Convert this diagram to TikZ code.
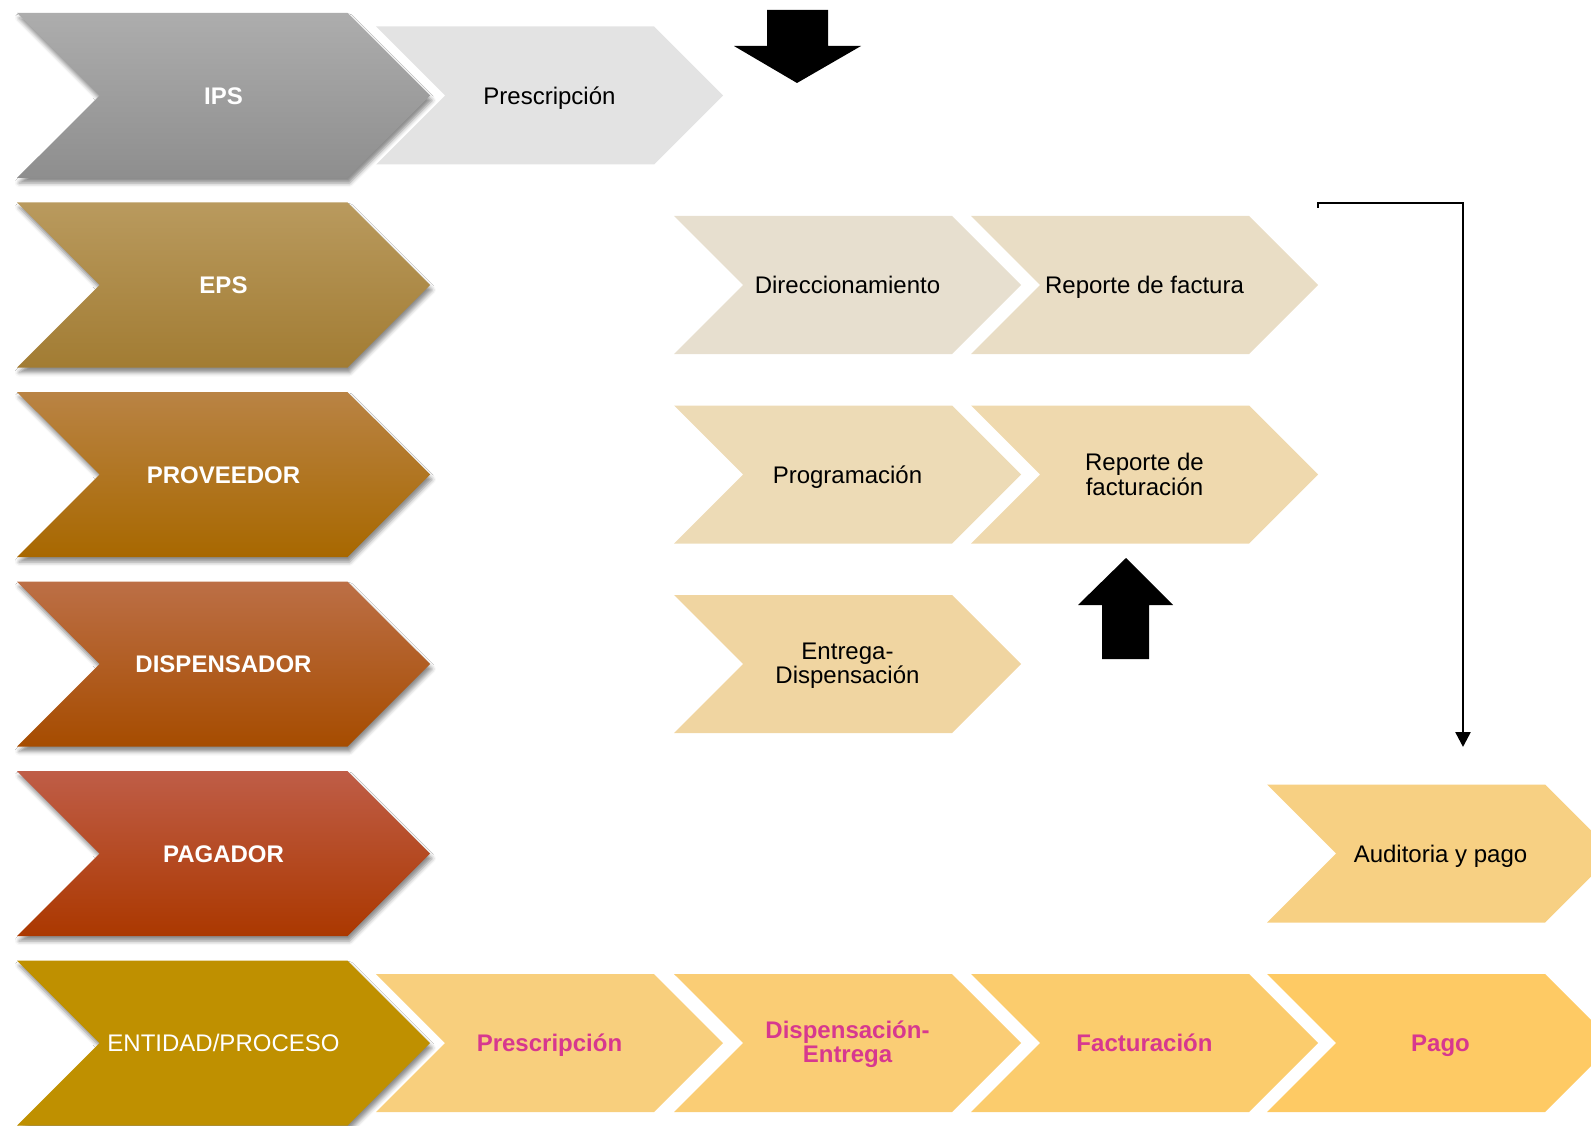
\documentclass[tikz,border=0pt]{standalone}
\usepackage{fontspec}
\setmainfont{Liberation Sans}
\usetikzlibrary{shapes.symbols}
\usetikzlibrary{shadows.blur}
\usetikzlibrary{arrows.meta}
\usetikzlibrary{positioning}

\definecolor{ipsA}{HTML}{ADADAD}
\definecolor{ipsB}{HTML}{8E8E8E}
\definecolor{epsA}{HTML}{B99A5E}
\definecolor{epsB}{HTML}{A27C33}
\definecolor{provA}{HTML}{B98344}
\definecolor{provB}{HTML}{A86800}
\definecolor{dispA}{HTML}{BC6F46}
\definecolor{dispB}{HTML}{A64C00}
\definecolor{pagA}{HTML}{BF5D47}
\definecolor{pagB}{HTML}{AB3800}
\definecolor{entidad}{HTML}{BF9000}
\definecolor{gris}{HTML}{E3E3E3}
\definecolor{crema1}{HTML}{E7DFCF}
\definecolor{crema2}{HTML}{E9DDC5}
\definecolor{crema3}{HTML}{EDDBB6}
\definecolor{crema4}{HTML}{EFD9AE}
\definecolor{crema5}{HTML}{F0D5A1}
\definecolor{crema6}{HTML}{F7D083}
\definecolor{ocre1}{HTML}{F8CF7D}
\definecolor{ocre2}{HTML}{FACD75}
\definecolor{ocre3}{HTML}{FBCC6D}
\definecolor{ocre4}{HTML}{FECA64}
\definecolor{rosa}{HTML}{D7388F}

\begin{document}
\begin{tikzpicture}[x=1pt,y=-1pt,
    chevron/.style={signal,signal from=west,signal to=east,signal pointer angle=90,inner sep=0pt},
    one line/.style={text height=22.5pt,text depth=5pt},
    actor node/.style={chevron,one line,minimum width=413pt,minimum height=165pt,
      preaction={draw=white,line width=6pt},
      blur shadow={shadow xshift=2pt,shadow yshift=-5pt,shadow blur radius=4pt,shadow opacity=45},
      text=white,font=\fontsize{24}{24.5}\selectfont\bfseries},
    task node/.style={chevron,minimum width=347pt,minimum height=138pt,align=center,
      font=\fontsize{24}{24.5}\selectfont},
    stage node/.style={task node,text=rosa,font=\fontsize{24}{24.5}\selectfont\bfseries}]

   \useasboundingbox (0,0) rectangle (1591,1126);

   % actividades por entidad
   \node[task node,one line,fill=gris] (presc) at (549.5,95.5) {Prescripción};
   \node[task node,one line,fill=crema1] (direc) at (847.5,285) {Direccionamiento};
   \node[task node,one line,fill=crema2] (repfac) at (1144.5,285) {Reporte de factura};
   \node[task node,one line,fill=crema3] (progr) at (847.5,474.5) {Programación};
   \node[task node,fill=crema4] (repfact) at (1144.5,474.5) {Reporte de\\facturación};
   \node[task node,fill=crema5] (entreg) at (847.5,664) {\rule{0pt}{20pt}Entrega-\\Dispensación};
   \node[task node,one line,fill=crema6] (audit) at (1440.5,853.5) {Auditoria y pago};

   % fila de procesos
   \node[stage node,one line,fill=ocre1] (p1) at (549.5,1043) {Prescripción};
   \node[stage node,fill=ocre2] (p2) at (847.5,1043) {\rule{0pt}{20pt}Dispensación-\\Entrega};
   \node[stage node,one line,fill=ocre3] (p3) at (1144.5,1043) {Facturación};
   \node[stage node,one line,fill=ocre4] (p4) at (1440.5,1043) {Pago};

   % entidades
   \node[actor node,top color=ipsA,bottom color=ipsB] (ips) at (223.5,95.5) {IPS};
   \node[actor node,top color=epsA,bottom color=epsB] (eps) at (223.5,285) {EPS};
   \node[actor node,top color=provA,bottom color=provB] (prov) at (223.5,474.5) {PROVEEDOR};
   \node[actor node,top color=dispA,bottom color=dispB] (disp) at (223.5,664) {DISPENSADOR};
   \node[actor node,top color=pagA,bottom color=pagB] (pag) at (223.5,853.5) {PAGADOR};
   \node[actor node,fill=entidad,font=\fontsize{24}{24.5}\selectfont] (ent) at (223.5,1043) {ENTIDAD/PROCESO};

   % flechas de bloque
   \fill (767,10) -- (828,10) -- (828,46) -- (861,46) -- (797,83) -- (734,46) -- (767,46) -- cycle;
   \fill (1102,659) -- (1149,659) -- (1149,605) -- (1173,605) -- (1126,558) -- (1078,605) -- (1102,605) -- cycle;

   \coordinate (tick) at (1318,208);
   \coordinate (corner) at (1463,203);
   \coordinate (endpt) at (1463,747);
   \draw[line width=2.5pt,-{Triangle[width=15pt,length=15pt]}] (tick) |- (corner) -- (endpt);
  \end{tikzpicture}
\end{document}
